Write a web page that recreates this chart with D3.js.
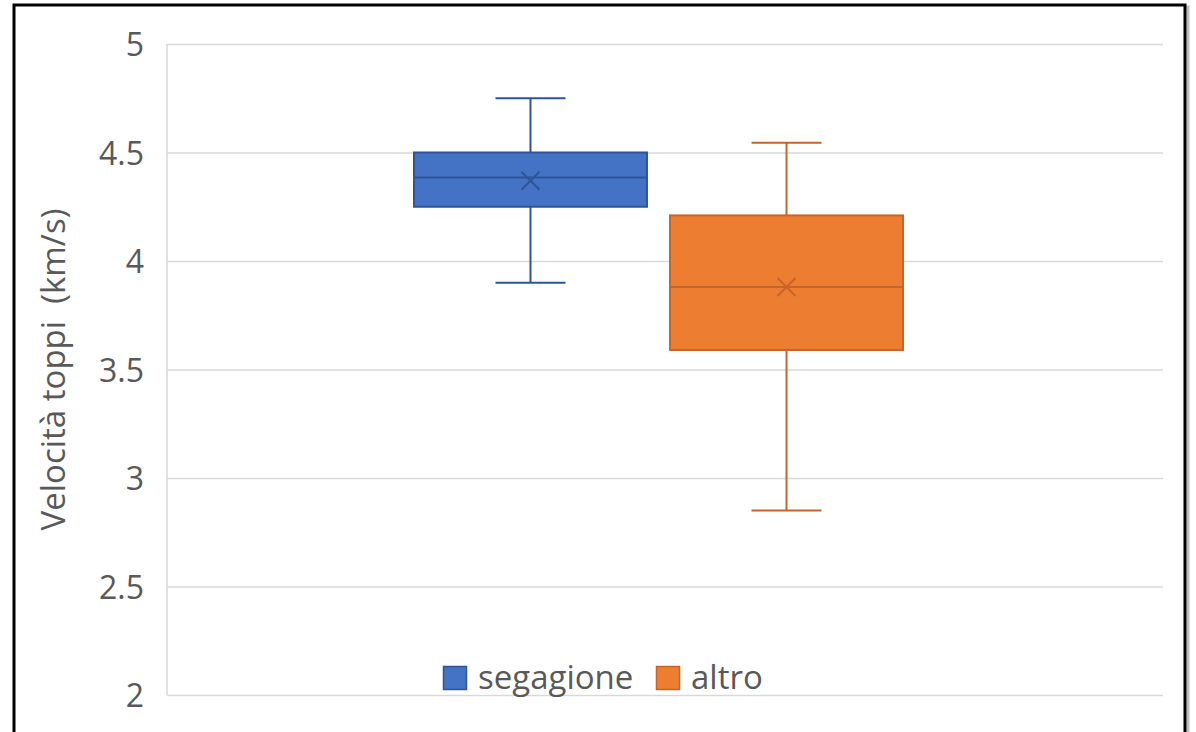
<!DOCTYPE html>
<html>
<head>
<meta charset="utf-8">
<script src="https://cdn.jsdelivr.net/npm/d3@7"></script>
<style>
  body { margin: 0; background: #fff; }
  text { font-family: "Open Sans", sans-serif; fill: #595959; }
</style>
</head>
<body>
<svg id="chart" width="1196" height="732"></svg>
<script>
// series data
var seriesNames = ["segagione", "altro"];
var whiskerLow  = [3.90, 2.85];
var q1Values    = [4.25, 3.59];
var medians     = [4.385, 3.88];
var q3Values    = [4.50, 4.21];
var whiskerHigh = [4.75, 4.545];
var means       = [4.37, 3.88];
var yTicks      = [2, 2.5, 3, 3.5, 4, 4.5, 5];

var fills   = ["#4472C4", "#ED7D31"];
var strokes = ["#2F5597", "#C5652A"];

var svg = d3.select("#chart");

// outer frame
svg.append("rect")
    .attr("x", 16).attr("y", 7)
    .attr("width", 1172).attr("height", 760)
    .attr("fill", "none").attr("stroke", "#bfbfbf").attr("stroke-width", 3);
svg.append("rect")
    .attr("x", 14).attr("y", 5)
    .attr("width", 1171).attr("height", 760)
    .attr("fill", "#fff").attr("stroke", "#000").attr("stroke-width", 3);

var plotLeft = 167, plotRight = 1163, plotTop = 44, plotBottom = 695;

var y = d3.scaleLinear().domain([2, 5]).range([plotBottom, plotTop]);
var x = d3.scaleBand().domain(seriesNames)
    .range([plotLeft + 247, plotLeft + 736])
    .paddingInner(0.09);

var g = svg.append("g");

// gridlines
g.append("g")
    .attr("transform", "translate(" + plotLeft + ",0)")
    .call(d3.axisLeft(y).tickValues(yTicks).tickFormat("").tickSizeInner(-(plotRight - plotLeft)).tickSizeOuter(0))
    .call(function(a) {
        a.select(".domain").remove();
        a.selectAll("line").attr("stroke", "#d9d9d9").attr("stroke-width", 1.5);
    });

// left axis line
g.append("line")
    .attr("x1", plotLeft).attr("x2", plotLeft)
    .attr("y1", y(5)).attr("y2", y(2))
    .attr("stroke", "#d9d9d9").attr("stroke-width", 1.5);

// tick labels
g.append("g")
    .attr("transform", "translate(" + plotLeft + ",0)")
    .call(d3.axisLeft(y).tickValues(yTicks).tickFormat(d3.format("")).tickSize(0).tickPadding(23))
    .call(function(a) {
        a.select(".domain").remove();
        a.selectAll("text")
            .attr("font-size", "32px")
            .attr("font-family", "Open Sans, sans-serif")
            .attr("fill", "#595959")
            .attr("dy", "0.36em");
    });

// y axis title
svg.append("text")
    .attr("transform", "translate(65," + ((plotTop + plotBottom) / 2) + ") rotate(-90)")
    .attr("text-anchor", "middle")
    .attr("font-size", "33px")
    .attr("xml:space", "preserve")
    .text("Velocità toppi  (km/s)");

// boxes
var boxes = g.selectAll(".box")
    .data(seriesNames)
    .enter().append("g")
    .attr("class", "box");

var capW = 70;

boxes.append("line")
    .attr("x1", function(d) { return x(d) + x.bandwidth() / 2; })
    .attr("x2", function(d) { return x(d) + x.bandwidth() / 2; })
    .attr("y1", function(d, i) { return y(whiskerHigh[i]); })
    .attr("y2", function(d, i) { return y(whiskerLow[i]); })
    .attr("stroke", function(d, i) { return strokes[i]; })
    .attr("stroke-width", 2);

boxes.selectAll(".cap")
    .data(function(d, i) { return [{ s: d, i: i, v: whiskerHigh[i] }, { s: d, i: i, v: whiskerLow[i] }]; })
    .enter().append("line")
    .attr("class", "cap")
    .attr("x1", function(c) { return x(c.s) + x.bandwidth() / 2 - capW / 2; })
    .attr("x2", function(c) { return x(c.s) + x.bandwidth() / 2 + capW / 2; })
    .attr("y1", function(c) { return y(c.v); })
    .attr("y2", function(c) { return y(c.v); })
    .attr("stroke", function(c) { return strokes[c.i]; })
    .attr("stroke-width", 2);

boxes.append("rect")
    .attr("x", function(d) { return x(d); })
    .attr("y", function(d, i) { return y(q3Values[i]); })
    .attr("width", x.bandwidth())
    .attr("height", function(d, i) { return y(q1Values[i]) - y(q3Values[i]); })
    .attr("fill", function(d, i) { return fills[i]; })
    .attr("stroke", function(d, i) { return strokes[i]; })
    .attr("stroke-width", 2);

boxes.append("line")
    .attr("x1", function(d) { return x(d); })
    .attr("x2", function(d) { return x(d) + x.bandwidth(); })
    .attr("y1", function(d, i) { return y(medians[i]); })
    .attr("y2", function(d, i) { return y(medians[i]); })
    .attr("stroke", function(d, i) { return strokes[i]; })
    .attr("stroke-width", 2);

// mean markers
boxes.append("path")
    .attr("transform", function(d, i) {
        return "translate(" + (x(d) + x.bandwidth() / 2) + "," + y(means[i]) + ")";
    })
    .attr("d", "M-9,-9L9,9M-9,9L9,-9")
    .attr("stroke", function(d, i) { return strokes[i]; })
    .attr("stroke-width", 2)
    .attr("fill", "none");

// legend
var legendX = [443, 656];
var legend = svg.selectAll(".legend")
    .data(seriesNames)
    .enter().append("g")
    .attr("class", "legend")
    .attr("transform", function(d, i) { return "translate(" + legendX[i] + ",666)"; });

legend.append("rect")
    .attr("width", 23).attr("height", 23)
    .attr("x", 0.5).attr("y", 0.5)
    .attr("fill", function(d, i) { return fills[i]; })
    .attr("stroke", function(d, i) { return strokes[i]; })
    .attr("stroke-width", 1.5);

legend.append("text")
    .attr("x", 35)
    .attr("y", 23)
    .attr("font-size", "33px")
    .text(function(d) { return d; });
</script>
</body>
</html>
